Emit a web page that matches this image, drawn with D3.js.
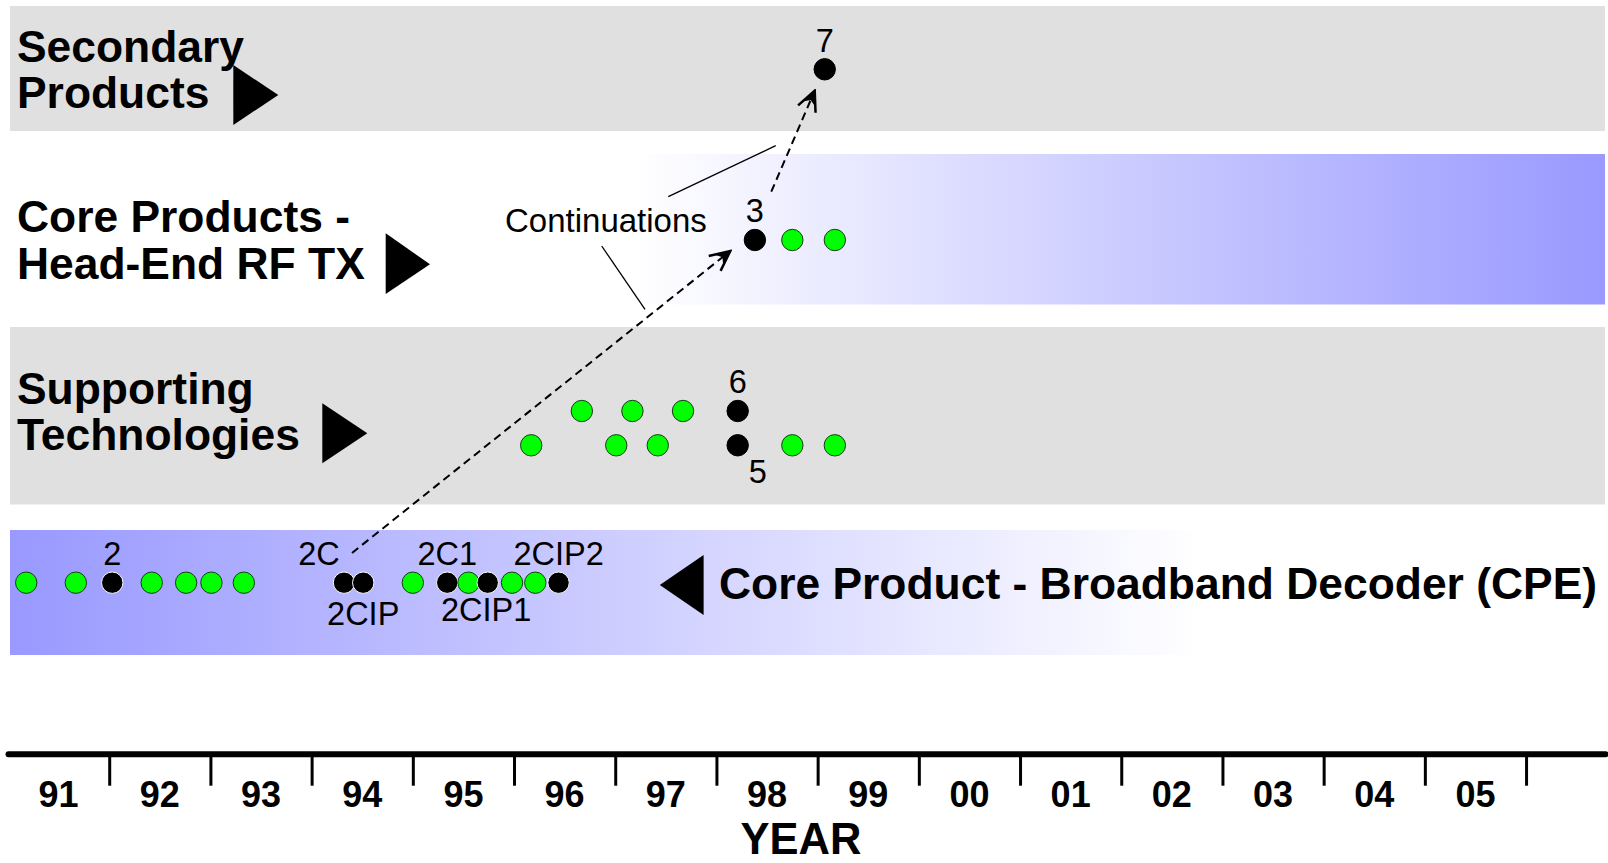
<!DOCTYPE html>
<html>
<head>
<meta charset="utf-8">
<script src="https://cdn.jsdelivr.net/npm/d3@7"></script>
<style>
  html, body { margin: 0; padding: 0; background: #fff; }
  svg { display: block; }
  text { font-family: "Liberation Sans", Arial, Helvetica, sans-serif; fill: #000; }
</style>
</head>
<body>
<svg id="chart" width="1608" height="863"></svg>
<script>
// ---------------- DATA ----------------
const tickLabels = ["91","92","93","94","95","96","97","98","99","00","01","02","03","04","05"];
const tickYears = [1992,1993,1994,1995,1996,1997,1998,1999,2000,2001,2002,2003,2004,2005,2006];
const laneNames = ["secondary", "headend", "supportUpper", "supportLower", "cpe"];

// Core Product - Broadband Decoder (CPE) row
const cpeYears = [1991.18, 1991.67, 1992.03, 1992.42, 1992.76, 1993.01, 1993.33, 1994.32, 1994.51,
                  1995.00, 1995.34, 1995.55, 1995.74, 1995.98, 1996.21, 1996.44];
const cpeKinds = ["g","g","b","g","g","g","g","b","b","g","b","g","b","g","g","b"];
const cpeLabels = ["","","2","","","","","2C","2CIP","","2C1","","2CIP1","","","2CIP2"];
const cpeLabelPlace = ["","","above","","","","","aboveLeft","below","","above","","below2","","","above"];

// Supporting Technologies rows
const supportUpperYears = [1996.67, 1997.17, 1997.67, 1998.21];
const supportUpperKinds = ["g","g","g","b"];
const supportUpperLabels = ["","","","6"];
const supportLowerYears = [1996.17, 1997.01, 1997.42, 1998.21, 1998.75, 1999.17];
const supportLowerKinds = ["g","g","g","b","g","g"];
const supportLowerLabels = ["","","","5","",""];

// Core Products - Head-End RF TX row
const headendYears = [1998.38, 1998.75, 1999.17];
const headendKinds = ["b","g","g"];
const headendLabels = ["3","",""];

// Secondary Products row
const secondaryYears = [1999.07];
const secondaryKinds = ["b"];
const secondaryLabels = ["7"];

// Continuation arrows (from labelled point to labelled point)
const arrowFrom = ["2C", "3"];
const arrowTo = ["3", "7"];

const rowTitles = [
  ["Secondary", "Products"],
  ["Core Products -", "Head-End RF TX"],
  ["Supporting", "Technologies"]
];
const cpeTitle = "Core Product - Broadband Decoder (CPE)";
const calloutText = "Continuations";
const axisTitle = "YEAR";

// ---------------- LAYOUT ----------------
const svg = d3.select("#chart");
const x = d3.scaleLinear().domain([1991, 2006.78]).range([8, 1605]);
const y = d3.scaleOrdinal().domain(laneNames).range([69.3, 240, 411, 445.3, 582.7]);

const GREY = "#e0e0e0", BLUE = "#9999ff", GREEN = "#00ff00";

const defs = svg.append("defs");
const g1 = defs.append("linearGradient").attr("id", "gradHead").attr("x1", "0%").attr("x2", "100%");
g1.append("stop").attr("offset", "0%").attr("stop-color", "#ffffff");
g1.append("stop").attr("offset", "100%").attr("stop-color", BLUE);
const g2 = defs.append("linearGradient").attr("id", "gradCpe").attr("x1", "0%").attr("x2", "100%");
g2.append("stop").attr("offset", "0%").attr("stop-color", BLUE);
g2.append("stop").attr("offset", "100%").attr("stop-color", "#ffffff");

const marker = defs.append("marker")
  .attr("id", "arrowHead").attr("markerUnits", "userSpaceOnUse")
  .attr("viewBox", "-24 -12 26 24").attr("refX", 0).attr("refY", 0)
  .attr("markerWidth", 26).attr("markerHeight", 24).attr("orient", "auto");
marker.append("path").attr("d", "M-20,-9.5 L0,0 L-20,9.5")
  .attr("fill", "none").attr("stroke", "#000").attr("stroke-width", 2.5).attr("stroke-dasharray", "none");
marker.append("path").attr("d", "M0,0 L-14,-6 L-10,0 L-14,6 Z").attr("fill", "#000");

// bands
svg.append("rect").attr("x", 10).attr("y", 6).attr("width", 1595).attr("height", 125).attr("fill", GREY);
svg.append("rect").attr("x", 637).attr("y", 154).attr("width", 968).attr("height", 150.5).attr("fill", "url(#gradHead)");
svg.append("rect").attr("x", 10).attr("y", 327).attr("width", 1595).attr("height", 177.5).attr("fill", GREY);
svg.append("rect").attr("x", 10).attr("y", 530).attr("width", 1190).attr("height", 125).attr("fill", "url(#gradCpe)");

// row titles
const titleBaselines = [[62.3, 108.3], [232.3, 279.3], [403.5, 449.5]];
rowTitles.forEach((lines, i) => {
  lines.forEach((t, j) => {
    svg.append("text").attr("x", 17).attr("y", titleBaselines[i][j])
      .attr("font-size", 44.4).attr("font-weight", "bold").text(t);
  });
});
svg.append("text").attr("x", 719).attr("y", 599).attr("font-size", 44.4).attr("font-weight", "bold").text(cpeTitle);

// triangles
const tris = [
  [[233.3,65],[233.3,125],[278.3,95]],
  [[385.7,233.3],[385.7,294],[430,264.3]],
  [[322.3,403.3],[322.3,463.3],[367.3,433.3]],
  [[703.6,555],[703.6,615],[659.8,585]]
];
svg.selectAll("polygon.tri").data(tris).enter().append("polygon").attr("class", "tri")
  .attr("points", d => d.map(p => p.join(",")).join(" ")).attr("fill", "#000");

// collect points
function build(lane, years, kinds, labels, places) {
  return years.map((yr, i) => ({ lane, year: yr, kind: kinds[i], label: labels[i] || "", place: (places && places[i]) || "" }));
}
const points = [].concat(
  build("cpe", cpeYears, cpeKinds, cpeLabels, cpeLabelPlace),
  build("supportUpper", supportUpperYears, supportUpperKinds, supportUpperLabels, ["","","","above"]),
  build("supportLower", supportLowerYears, supportLowerKinds, supportLowerLabels, ["","","","belowRight","",""]),
  build("headend", headendYears, headendKinds, headendLabels, ["above","",""]),
  build("secondary", secondaryYears, secondaryKinds, secondaryLabels, ["above"])
);

// callout leader lines & text
svg.append("line").attr("x1", 668.3).attr("y1", 196.7).attr("x2", 775.7).attr("y2", 145.7)
  .attr("stroke", "#000").attr("stroke-width", 1.3);
svg.append("line").attr("x1", 601.7).attr("y1", 246).attr("x2", 645).attr("y2", 309.3)
  .attr("stroke", "#000").attr("stroke-width", 1.3);
svg.append("text").attr("x", 505).attr("y", 231.7).attr("font-size", 33).text(calloutText);

// dashed continuation arrows (offsets from the connected dots' centres)
const byLabel = {};
points.forEach(p => { if (p.label) byLabel[p.label] = p; });
const startOff = [[8, -29.7], [16.4, -48.3]];
const endOff = [[-24.6, 11], [-10, 21.4]];
arrowFrom.forEach((f, i) => {
  const a = byLabel[f], b = byLabel[arrowTo[i]];
  svg.append("line")
    .attr("x1", x(a.year) + startOff[i][0]).attr("y1", y(a.lane) + startOff[i][1])
    .attr("x2", x(b.year) + endOff[i][0]).attr("y2", y(b.lane) + endOff[i][1])
    .attr("stroke", "#000").attr("stroke-width", 2).attr("stroke-dasharray", "8,5")
    .attr("marker-end", "url(#arrowHead)");
});

// dots
svg.selectAll("circle.pt").data(points).enter().append("circle").attr("class", "pt")
  .attr("cx", d => x(d.year)).attr("cy", d => y(d.lane)).attr("r", 10.7)
  .attr("fill", d => d.kind === "g" ? GREEN : "#000")
  .attr("stroke", d => d.kind === "g" ? "#1a3a1a" : (d.lane === "cpe" ? "#ffffff" : "#000"))
  .attr("stroke-width", 1);

// point labels
const placeOffset = {
  above: [0, -17.8], aboveLeft: [-25, -17.8], below: [0, 42.3], below2: [-1.5, 38], belowRight: [20, 37.4]
};
svg.selectAll("text.pl").data(points.filter(p => p.label)).enter().append("text").attr("class", "pl")
  .attr("x", d => x(d.year) + placeOffset[d.place][0])
  .attr("y", d => y(d.lane) + placeOffset[d.place][1])
  .attr("text-anchor", "middle").attr("font-size", 32.5).text(d => d.label);

// axis
const axis = d3.axisBottom(x).tickValues(tickYears).tickSize(32).tickSizeOuter(0).tickFormat("");
const ag = svg.append("g").attr("transform", "translate(0,753.7)").call(axis);
ag.select(".domain").attr("stroke", "#000").attr("stroke-width", 6).attr("stroke-linecap", "round");
ag.selectAll(".tick line").attr("stroke", "#000").attr("stroke-width", 3);

svg.selectAll("text.tl").data(tickLabels).enter().append("text").attr("class", "tl")
  .attr("x", (d, i) => x(1991 + i + 0.5)).attr("y", 806.5)
  .attr("text-anchor", "middle").attr("font-size", 36).attr("font-weight", "bold").text(d => d);

svg.append("text").attr("x", 801).attr("y", 853.5).attr("text-anchor", "middle")
  .attr("font-size", 43.5).attr("font-weight", "bold").text(axisTitle);
</script>
</body>
</html>
